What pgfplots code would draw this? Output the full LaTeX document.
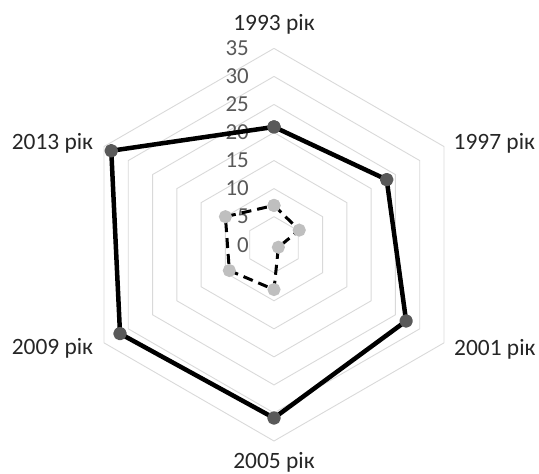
\documentclass[border=0pt]{standalone}
\usepackage{fontspec}
\setmainfont{Carlito}
\usepackage{pgfplots}
\pgfplotsset{compat=1.18}
\usepgfplotslibrary{polar}

\definecolor{ringgray}{HTML}{D9D9D9}
\definecolor{tickgray}{HTML}{595959}
\definecolor{labelgray}{HTML}{262626}
\definecolor{markdark}{HTML}{595959}
\definecolor{marklight}{HTML}{BFBFBF}

\begin{document}
\begin{tikzpicture}
\begin{polaraxis}[
    width=392.6bp, height=392.6bp,
    scale only axis,
    ymin=0, ymax=35,
    hide axis,
    clip=false,
  ]
  % hexagonal grid rings
  \pgfplotsinvokeforeach{5,10,15,20,25,30,35}{
    \addplot[ringgray, line width=0.9bp, forget plot] coordinates {
      (90,#1) (30,#1) (-30,#1) (-90,#1) (-150,#1) (150,#1) (90,#1)};
  }
  % radial scale labels
  \pgfplotsinvokeforeach{0,5,10,15,20,25,30,35}{
    \node[anchor=east, inner sep=0pt, xshift=-25bp, text=tickgray,
          font=\fontsize{23}{27}\selectfont] at (axis cs:90,#1) {#1};
  }
  % series 1 (solid)
  \addplot[black, line width=4.5bp, line join=round,
           mark=*, mark size=4.5bp, mark options={solid, fill=markdark, draw=markdark}]
    coordinates {(90,21) (30,23.2) (-30,27.2) (-90,30.9) (-150,31.7) (150,33.5) (90,21)};
  % series 2 (dashed)
  \addplot[black, line width=3bp, dash pattern=on 10bp off 6bp,
           mark=*, mark size=5bp, mark options={solid, fill=marklight, draw=marklight}]
    coordinates {(90,7) (30,5.2) (-30,0.9) (-90,8) (-150,9.2) (150,10) (90,7)};
  \coordinate (c) at (axis cs:0,0);
\end{polaraxis}
\begin{scope}[every node/.style={inner sep=0pt, text=labelgray, font=\fontsize{23.5}{28}\selectfont}]
  \node[anchor=base] at ([shift={(0bp,214bp)}]c) {1993 рік};
  \node[anchor=base west] at ([shift={(179.5bp,94.7bp)}]c) {1997 рік};
  \node[anchor=base west] at ([shift={(180bp,-111.3bp)}]c) {2001 рік};
  \node[anchor=base] at ([shift={(0bp,-223.5bp)}]c) {2005 рік};
  \node[anchor=base east] at ([shift={(-180.7bp,-110.3bp)}]c) {2009 рік};
  \node[anchor=base east] at ([shift={(-180.7bp,94.7bp)}]c) {2013 рік};
\end{scope}
\pgfresetboundingbox
\path (c) ++(-274bp,-229.3bp) rectangle ++(539bp,474bp);
\end{tikzpicture}
\end{document}
